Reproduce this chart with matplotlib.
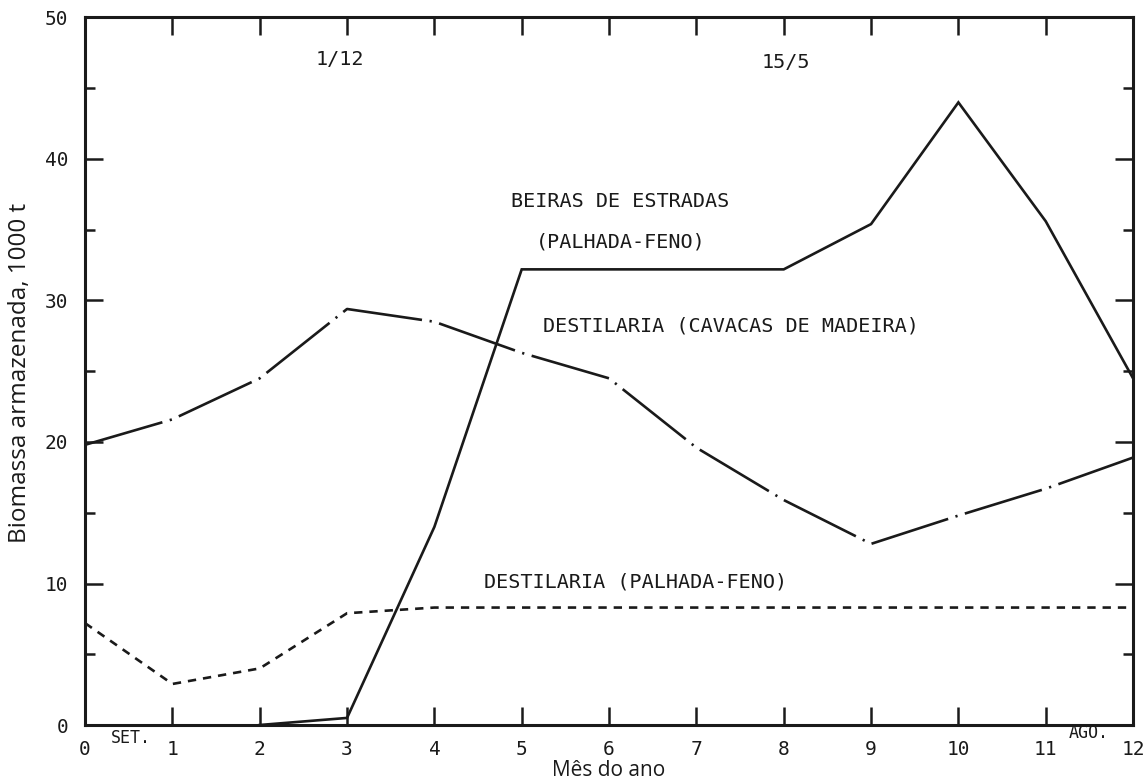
import matplotlib
matplotlib.use("Agg")
import matplotlib.pyplot as plt
from matplotlib.ticker import MultipleLocator

plt.rcParams['lines.scale_dashes'] = False

# Data (months since September, biomass stored in 1000 t)
months_beiras = [2, 3, 4, 5, 6, 7, 8, 9, 10, 11, 12]
beiras = [0.0, 0.5, 14.0, 32.2, 32.2, 32.2, 32.2, 35.4, 44.0, 35.6, 24.5]

months_cavacas = [0, 1, 2, 3, 4, 5, 6, 7, 8, 9, 10, 11, 12]
cavacas = [19.8, 21.6, 24.5, 29.4, 28.5, 26.3, 24.5, 19.6, 15.9, 12.8, 14.8, 16.7, 18.9]

months_palhada = [0, 1, 2, 3, 4, 5, 6, 7, 8, 9, 10, 11, 12]
palhada = [7.2, 2.9, 4.0, 7.9, 8.3, 8.3, 8.3, 8.3, 8.3, 8.3, 8.3, 8.3, 8.3]

xticks = list(range(13))
yticks = [0, 10, 20, 30, 40, 50]

mono = 'DejaVu Sans Mono'

fig = plt.figure(figsize=(11.43, 7.81), dpi=100)
ax = fig.add_axes([0.0744, 0.0717, 0.9169, 0.9059])

ax.plot(months_beiras, beiras, color='#1a1a1a', lw=1.9, solid_joinstyle='miter')
ax.plot(months_cavacas, cavacas, color='#1a1a1a', lw=1.9,
        dashes=(58, 5.5, 1.6, 5.5))
ax.plot(months_palhada, palhada, color='#1a1a1a', lw=1.9, dashes=(6, 5))

ax.set_xlim(0, 12)
ax.set_ylim(0, 50)
ax.set_xticks(xticks)
ax.set_yticks(yticks)
ax.yaxis.set_minor_locator(MultipleLocator(5))

for s in ax.spines.values():
    s.set_linewidth(2.2)
    s.set_color('#1a1a1a')

ax.tick_params(axis='x', which='major', direction='in', length=13, width=1.8,
               top=True, bottom=True, pad=11, colors='#1a1a1a',
               labelsize=14)
ax.tick_params(axis='y', which='major', direction='in', length=13, width=1.8,
               left=True, right=True, pad=12, colors='#1a1a1a', labelsize=14)
ax.tick_params(axis='y', which='minor', direction='in', length=7.5, width=1.8,
               left=True, right=True, colors='#1a1a1a')
for lab in ax.get_xticklabels() + ax.get_yticklabels():
    lab.set_family(mono)

fig.text(0.0175, 0.5231, 'Biomassa armazenada, 1000 t', fontsize=17.5,
         family='Open Sans', color='#1a1a1a', rotation=90,
         ha='center', va='center')
ax.set_xlabel('Mês do ano', fontsize=15, family='Open Sans', color='#1a1a1a')
ax.xaxis.set_label_coords(0.5, -0.05)

tk = dict(family=mono, fontsize=14.5, color='#1a1a1a', ha='center', va='center')
ax.text(2.92, 47.0, '1/12', **tk)
ax.text(8.02, 46.8, '15/5', **tk)
ax.text(6.13, 37.0, 'BEIRAS DE ESTRADAS', **tk)
ax.text(6.13, 34.1, '(PALHADA-FENO)', **tk)
ax.text(7.39, 28.2, 'DESTILARIA (CAVACAS DE MADEIRA)', **tk)
ax.text(6.3, 10.1, 'DESTILARIA (PALHADA-FENO)', **tk)

ax.text(0.53, -0.9, 'SET.', family=mono, fontsize=12, color='#1a1a1a',
        ha='center', va='center', clip_on=False)
ax.text(11.49, -0.55, 'AGO.', family=mono, fontsize=12, color='#1a1a1a',
        ha='center', va='center', clip_on=False)

fig.savefig('out.png', dpi=100)
